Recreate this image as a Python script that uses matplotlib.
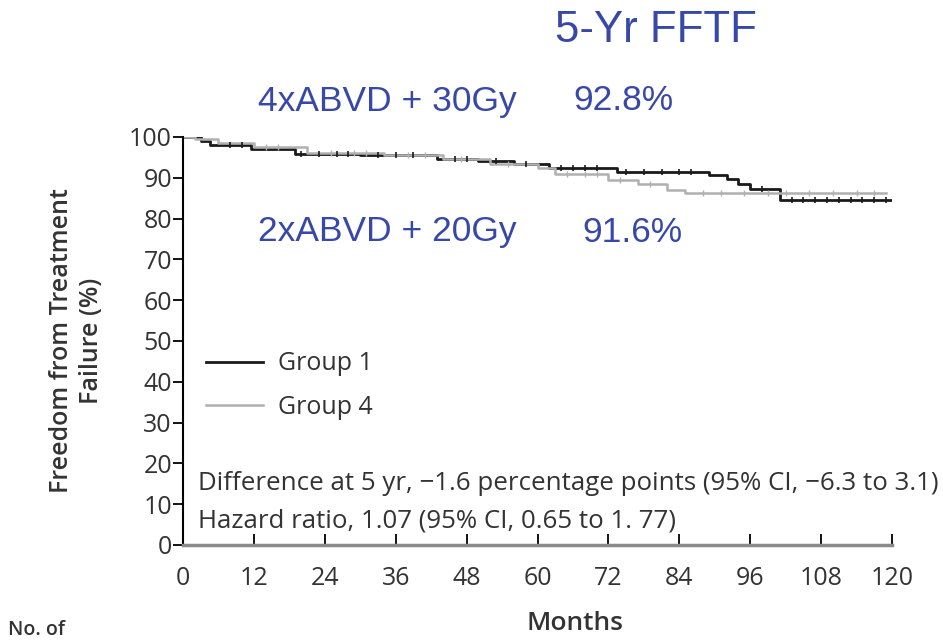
import matplotlib
matplotlib.use('Agg')
import matplotlib.pyplot as plt
import numpy as np

# Kaplan-Meier step points (months, % free from failure)
g1_times = [0, 3, 4.5, 11.5, 19, 30, 43, 50, 56, 62, 73.5, 89, 92, 94, 96, 101, 120]
g1_surv = [100, 99, 98, 97, 95.8, 95.5, 94.5, 94.0, 93.5, 92.5, 91.3, 90.8, 89.8, 88.5, 87.2, 84.6, 84.6]
g4_times = [0, 2, 6, 12, 21, 34, 44, 52, 60, 63, 72, 77, 82, 85, 119]
g4_surv = [100, 99.5, 98.5, 97.5, 96.2, 95.5, 94.5, 93.5, 92.5, 91.0, 89.5, 88.5, 87.0, 86.3, 86.3]

# censored observations (tick marks)
g1_cens = [8, 10, 20, 23, 26, 28, 33, 36, 39, 46, 48, 53, 58, 64, 66, 68, 70, 75, 78, 81, 84, 86,
           98, 103, 105, 107, 109, 111, 113, 115, 117, 119]
g4_cens = [14, 16, 25, 29, 31, 38, 41, 47, 55, 65, 68, 70, 74, 79, 88, 91, 95, 99, 102, 106,
           110, 114, 117]

blue = '#3848a8'
body_font = 'Open Sans'
ink = '#333333'

fig = plt.figure(figsize=(9.43, 6.42), dpi=100)
ax = fig.add_axes([183 / 943, 1 - 545 / 642, 709 / 943, 408 / 642])

ax.step(g1_times, g1_surv, where='post', color='#1a1a1a', lw=2.0, label='Group 1')
ax.step(g4_times, g4_surv, where='post', color='#b0b0b0', lw=1.8, label='Group 4')


def surv_at(times, surv, t):
    i = np.searchsorted(times, t, side='right') - 1
    return np.array(surv)[i]


ax.plot(g1_cens, surv_at(g1_times, g1_surv, g1_cens), ls='none', marker='|',
        ms=5, mew=1.2, color='#1a1a1a')
ax.plot(g4_cens, surv_at(g4_times, g4_surv, g4_cens), ls='none', marker='|',
        ms=5, mew=1.0, color='#b0b0b0')

ax.set_xlim(0, 120)
ax.set_ylim(0, 100)
ax.set_xticks(np.arange(0, 121, 12))
ax.set_yticks(np.arange(0, 101, 10))
ax.spines['top'].set_visible(False)
ax.spines['right'].set_visible(False)
ax.spines['left'].set_linewidth(1.5)
ax.spines['bottom'].set_color('#8a8a8a')
ax.spines['bottom'].set_linewidth(2.5)
ax.tick_params(axis='y', direction='out', length=7, width=1.3, labelsize=18, pad=1)
ax.tick_params(axis='x', direction='in', length=8, width=1.3, labelsize=18, pad=15)
for lab in ax.get_xticklabels() + ax.get_yticklabels():
    lab.set_fontfamily(body_font)
    lab.set_color(ink)

ax.set_ylabel('Freedom from Treatment\nFailure (%)', fontfamily=body_font, fontsize=18,
              fontweight='semibold', color=ink, labelpad=18, linespacing=1.25)
fig.text(575 / 943, 1 - 624 / 642, 'Months', fontfamily=body_font, fontsize=19,
         fontweight='semibold', color=ink, ha='center', va='center')

leg = ax.legend(loc='upper left', bbox_to_anchor=(0.0, 0.53), frameon=False,
                handlelength=2.3, handletextpad=0.6, labelspacing=0.75,
                prop={'family': body_font, 'size': 18})
for t in leg.get_texts():
    t.set_color(ink)

ax.text(2.5, 15, 'Difference at 5 yr, \u22121.6 percentage points (95% CI, \u22126.3 to 3.1)',
        fontfamily=body_font, fontsize=18.6, color=ink, va='center', clip_on=False)
ax.text(2.5, 6, 'Hazard ratio, 1.07 (95% CI, 0.65 to 1. 77)',
        fontfamily=body_font, fontsize=18.6, color=ink, va='center', clip_on=False)

# blue slide annotations
fig.text(555 / 943, 1 - 30 / 642, '5-Yr FFTF', fontfamily='Liberation Sans', fontsize=31.5,
         color=blue, va='center', ha='left')
fig.text(258 / 943, 1 - 101 / 642, '4xABVD + 30Gy', fontfamily='Liberation Sans',
         fontsize=25.5, color=blue, va='center')
fig.text(573 / 943, 1 - 101 / 642, '92.8%', fontfamily='Liberation Sans',
         fontsize=25.5, color=blue, va='center')
fig.text(258 / 943, 1 - 232 / 642, '2xABVD + 20Gy', fontfamily='Liberation Sans',
         fontsize=25.5, color=blue, va='center')
fig.text(582 / 943, 1 - 232 / 642, '91.6%', fontfamily='Liberation Sans',
         fontsize=25.5, color=blue, va='center')

fig.text(8 / 943, 2 / 642, 'No. of', fontfamily=body_font, fontsize=14,
         fontweight='semibold', color=ink, va='bottom')

fig.savefig('out.png', dpi=100)
